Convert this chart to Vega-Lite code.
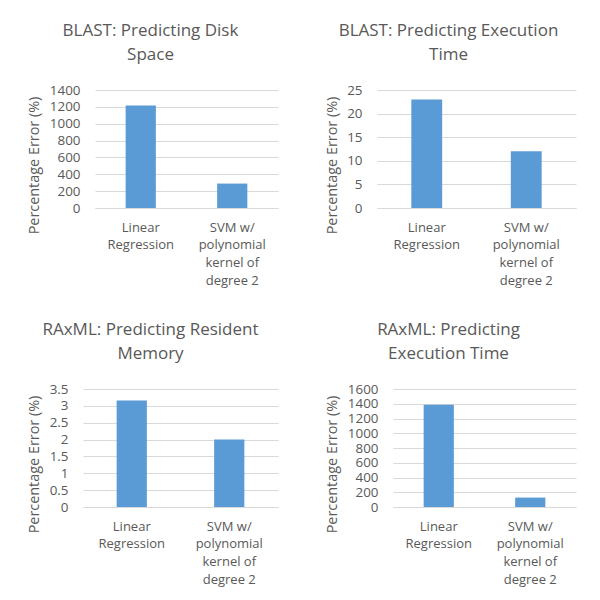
{
  "$schema": "https://vega.github.io/schema/vega-lite/v6.json",
  "background": "white",
  "padding": {"top": 22, "left": 25, "right": 0, "bottom": 0},
  "columns": 2,
  "align": "each",
  "bounds": "full",
  "spacing": {"row": 33, "column": 39},
  "config": {
    "font": "Open Sans",
    "view": {"stroke": null},
    "title": {"fontSize": 17, "fontWeight": "normal", "color": "#595959", "lineHeight": 24, "anchor": "middle", "frame": "group", "offset": 19},
    "axisY": {"grid": true, "gridColor": "#d9d9d9", "gridWidth": 1, "domain": false, "ticks": false, "labelFontSize": 13.4, "labelColor": "#595959", "format": "~r", "titleFontSize": 14.4, "titleFontWeight": "normal", "titleColor": "#595959", "titlePadding": 0, "titleY": 75},
    "axisX": {"domain": true, "domainColor": "#d9d9d9", "ticks": false, "labelAngle": 0, "labelFontSize": 13, "labelColor": "#595959", "labelPadding": 13, "labelBaseline": "top", "labelLineHeight": 17.7, "labelExpr": "datum.value == 'Linear Regression' ? ['Linear', 'Regression'] : ['SVM w/', 'polynomial', 'kernel of', 'degree 2']"},
    "bar": {"color": "#5b9bd5"}
  },
  "concat": [
    {
      "width": 189, "height": 118,
      "title": {"text": ["BLAST: Predicting Disk", "Space"], "dx": -33},
      "data": {"values": [
        {"model": "Linear Regression", "error": 1215},
        {"model": "SVM w/ polynomial kernel of degree 2", "error": 290}
      ]},
      "mark": "bar",
      "encoding": {
        "x": {"field": "model", "type": "nominal", "sort": null, "title": null, "scale": {"range": [6, 189], "paddingInner": 0.67, "paddingOuter": 0.335}},
        "y": {"field": "error", "type": "quantitative", "title": "Percentage Error (%)", "scale": {"domain": [0, 1400]}, "axis": {"values": [0, 200, 400, 600, 800, 1000, 1200, 1400], "labelPadding": 9, "minExtent": 48, "maxExtent": 48}}
      }
    },
    {
      "width": 191, "height": 118,
      "title": {"text": ["BLAST: Predicting Execution", "Time"], "dx": -32},
      "data": {"values": [
        {"model": "Linear Regression", "error": 23},
        {"model": "SVM w/ polynomial kernel of degree 2", "error": 12}
      ]},
      "mark": "bar",
      "encoding": {
        "x": {"field": "model", "type": "nominal", "sort": null, "title": null, "scale": {"range": [-8, 191], "paddingInner": 0.69, "paddingOuter": 0.345}},
        "y": {"field": "error", "type": "quantitative", "title": "Percentage Error (%)", "scale": {"domain": [0, 25]}, "axis": {"values": [0, 5, 10, 15, 20, 25], "labelPadding": 23, "minExtent": 46, "maxExtent": 46}}
      }
    },
    {
      "width": 189, "height": 118,
      "title": {"text": ["RAxML: Predicting Resident", "Memory"], "dx": -33},
      "data": {"values": [
        {"model": "Linear Regression", "error": 3.16},
        {"model": "SVM w/ polynomial kernel of degree 2", "error": 2.0}
      ]},
      "mark": "bar",
      "encoding": {
        "x": {"field": "model", "type": "nominal", "sort": null, "title": null, "scale": {"range": [-6, 189], "paddingInner": 0.69, "paddingOuter": 0.345}},
        "y": {"field": "error", "type": "quantitative", "title": "Percentage Error (%)", "scale": {"domain": [0, 3.5]}, "axis": {"values": [0, 0.5, 1, 1.5, 2, 2.5, 3, 3.5], "labelPadding": 21, "minExtent": 48, "maxExtent": 48}}
      }
    },
    {
      "width": 191, "height": 118,
      "title": {"text": ["RAxML: Predicting", "Execution Time"], "dx": -32},
      "data": {"values": [
        {"model": "Linear Regression", "error": 1385},
        {"model": "SVM w/ polynomial kernel of degree 2", "error": 128}
      ]},
      "mark": "bar",
      "encoding": {
        "x": {"field": "model", "type": "nominal", "sort": null, "title": null, "scale": {"range": [8, 191], "paddingInner": 0.67, "paddingOuter": 0.335}},
        "y": {"field": "error", "type": "quantitative", "title": "Percentage Error (%)", "scale": {"domain": [0, 1600]}, "axis": {"values": [0, 200, 400, 600, 800, 1000, 1200, 1400, 1600], "labelPadding": 7, "minExtent": 46, "maxExtent": 46}}
      }
    }
  ]
}
